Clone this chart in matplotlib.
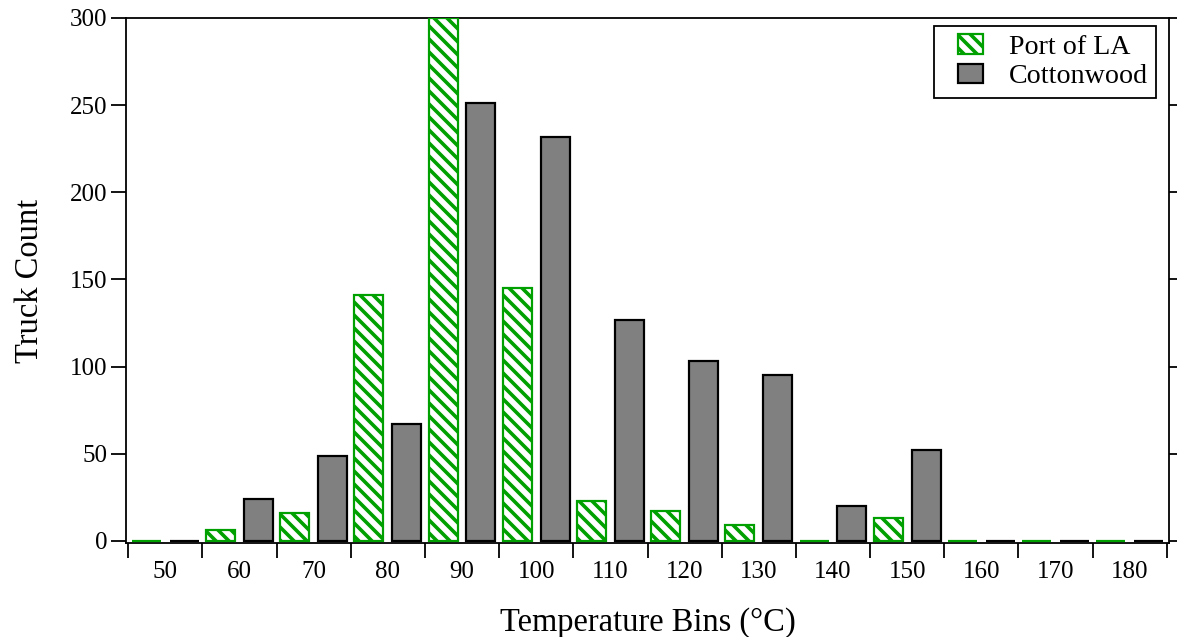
import matplotlib
matplotlib.use("Agg")
import matplotlib.pyplot as plt
import matplotlib.patches as mpatches
from matplotlib.container import BarContainer
from matplotlib.legend_handler import HandlerPatch, update_from_first_child
import numpy as np

bins = [50, 60, 70, 80, 90, 100, 110, 120, 130, 140, 150, 160, 170, 180]
port_of_la = [0, 6, 16, 141, 300, 145, 23, 17, 9, 0, 13, 0, 0, 0]
cottonwood = [0, 24, 49, 67, 251, 232, 127, 103, 95, 20, 52, 0, 0, 0]

DPI = 78
def px(v):
    return v * 72.0 / DPI

plt.rcParams['font.family'] = ['Liberation Serif', 'DejaVu Serif']
plt.rcParams['hatch.linewidth'] = px(3.6)
plt.rcParams['hatch.color'] = '#00a000'

fig = plt.figure(figsize=(1177 / DPI, 637 / DPI), dpi=DPI)
ax = fig.add_axes([126 / 1177, 1 - 543 / 637, (1169 - 126) / 1177, (543 - 18) / 637])

x = np.arange(len(bins))
w = 0.39
off = 0.255
green = '#00a000'
ax.bar(x - off, port_of_la, width=w, facecolor='white', edgecolor=green,
       hatch='\\\\', linewidth=px(2.2), label='Port of LA', zorder=3)
ax.bar(x + off, cottonwood, width=w, facecolor='#808080', edgecolor='black',
       linewidth=px(2.2), label='Cottonwood', zorder=3)

ax.set_xlim(-0.53, len(bins) - 0.47)
ax.set_ylim(-1.2, 300)
ax.set_yticks([0, 50, 100, 150, 200, 250, 300])

# boundary ticks (unlabeled) and centered labels (no tick marks)
ax.set_xticks(np.arange(len(bins) + 1) - 0.5)
ax.set_xticklabels([])
ax.set_xticks(x, minor=True)
ax.set_xticklabels([str(b) for b in bins], minor=True)
ax.tick_params(axis='x', which='major', direction='out', length=px(15), width=px(1.8))
ax.tick_params(axis='x', which='minor', length=0, pad=px(18), labelsize=px(25))
ax.tick_params(axis='y', which='major', direction='out', length=px(15), width=px(1.8),
               labelsize=px(25), pad=px(4), right=True)
for side in ['left', 'right', 'top', 'bottom']:
    ax.spines[side].set_linewidth(px(1.8))

ax.set_xlabel('Temperature Bins (°C)', fontsize=px(32.5), labelpad=px(24))
ax.set_ylabel('Truck Count', fontsize=px(32.5), labelpad=px(24))

PATCH_W = px(25)
def right_patch(legend, orig_handle, xdescent, ydescent, width, height, fontsize):
    return mpatches.Rectangle((-xdescent + width - PATCH_W, -ydescent), PATCH_W, height)

leg = ax.legend(loc='upper right', fontsize=px(28), frameon=True, fancybox=False,
                edgecolor='black', framealpha=1, borderpad=0.3, handlelength=1.45,
                handleheight=0.68, handletextpad=0.9, labelspacing=0.15,
                bbox_to_anchor=(0.9875, 0.985), borderaxespad=0,
                handler_map={BarContainer: HandlerPatch(patch_func=right_patch,
                                                        update_func=update_from_first_child)})
leg.get_frame().set_linewidth(px(1.8))

fig.savefig('out.png', dpi=DPI)
